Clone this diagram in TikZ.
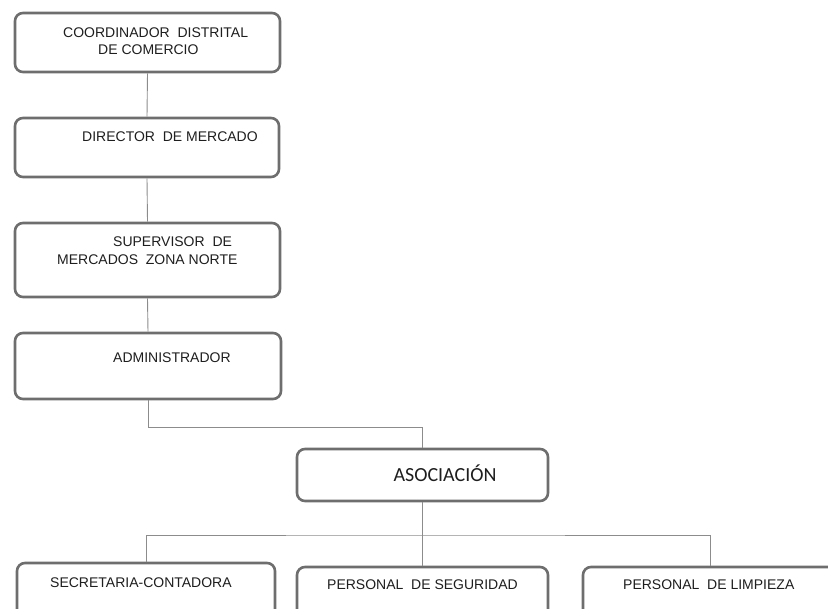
\documentclass[tikz,border=0pt]{standalone}
\usepackage{fontspec}
\setmainfont{Liberation Sans}
\newfontfamily\calib{Carlito}
\definecolor{boxgray}{HTML}{6E6E6E}
\definecolor{linegray}{HTML}{8C8C8C}
\definecolor{txtgray}{HTML}{1E1E1E}
\begin{document}
\begin{tikzpicture}[x=1pt,y=-1pt,
  box/.style={draw=boxgray, line width=2.6pt, rounded corners=8pt, inner sep=0pt, fill=white},
  conn/.style={draw=linegray, line width=0.9pt},
  lbl/.style={text=txtgray, font=\fontsize{14}{16}\selectfont, inner sep=0pt, anchor=west}]
\useasboundingbox (0,0) rectangle (828,609);
\clip (0,0) rectangle (828,609);
% boxes
\node[box, minimum width=265pt, minimum height=59pt] (b1) at (147.5,42.5) {};
\node[box, minimum width=264pt, minimum height=59pt] (b2) at (147,147.5) {};
\node[box, minimum width=265pt, minimum height=74pt] (b3) at (147.5,260) {};
\node[box, minimum width=266pt, minimum height=66pt] (b4) at (148,366) {};
\node[box, minimum width=251pt, minimum height=52pt] (b5) at (422.5,475) {};
\node[box, minimum width=258pt, minimum height=80pt] (b6) at (146,603) {};
\node[box, minimum width=251pt, minimum height=80pt] (b7) at (422.5,607) {};
\node[box, minimum width=254pt, minimum height=80pt] (b8) at (710,607) {};
% connectors
\draw[conn] (b1.south) -- (b2.north);
\draw[conn] (b2.south) -- (b3.north);
\draw[conn] (b3.south) -- (b4.north);
\draw[conn] (b4.south) -- ++(0,27) -| (b5.north);
\coordinate (bus) at (422.5,535);
\draw[conn] (b5.south) -- (bus);
\draw[conn] (b6.north) |- (bus) -| (b8.north);
\draw[conn] (bus) -- (b7.north);
% labels
\node[lbl] (t1a) at (63,33) {COORDINADOR\ \ DISTRITAL};
\node[lbl] (t1b) at (98,50) {DE COMERCIO};
\node[lbl] (t2) at (82,137) {DIRECTOR\ \ DE MERCADO};
\node[lbl] (t3a) at (113,242) {SUPERVISOR\ \ DE};
\node[lbl] (t3b) at (57,260) {MERCADOS\ \ ZONA NORTE};
\node[lbl] (t4) at (113,358) {ADMINISTRADOR};
\node[text=txtgray, font=\calib\fontsize{20}{22}\selectfont, inner sep=0pt] (t5) at (445,473) {ASOCIACIÓN};
\node[lbl] (t6) at (50,583) {SECRETARIA-CONTADORA};
\node[lbl] (t7) at (327,585) {PERSONAL\ \ DE SEGURIDAD};
\node[lbl] (t8) at (623,585) {PERSONAL\ \ DE LIMPIEZA};
\end{tikzpicture}
\end{document}
